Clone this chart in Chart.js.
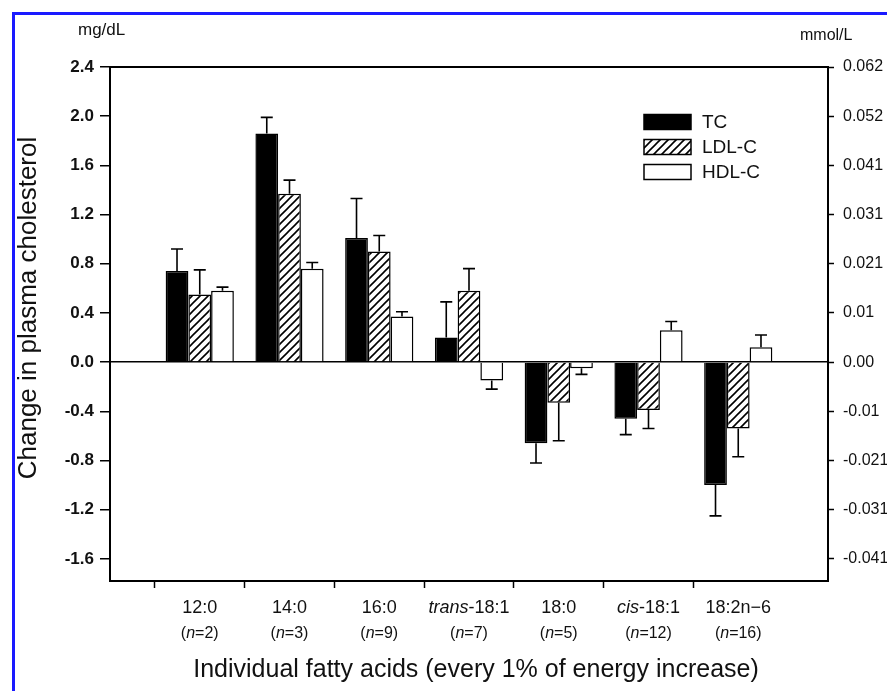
<!DOCTYPE html>
<html>
<head>
<meta charset="utf-8">
<script src="https://cdn.jsdelivr.net/npm/chart.js@4.4.0/dist/chart.umd.min.js"></script>
<style>
  body { margin: 0; background: #fff; }
  #wrap { width: 887px; height: 691px; }
</style>
</head>
<body>
<div id="wrap"><canvas id="fattyChart" width="887" height="691"></canvas></div>
<script>
// data (mg/dL)
const categories = ['12:0', '14:0', '16:0', 'trans-18:1', '18:0', 'cis-18:1', '18:2n\u22126'];
const sampleSizes = [2, 3, 9, 7, 5, 12, 16];
const tcValues = [0.74, 1.86, 1.01, 0.20, -0.66, -0.46, -1.00];
const ldlValues = [0.55, 1.37, 0.90, 0.58, -0.33, -0.39, -0.54];
const hdlValues = [0.58, 0.76, 0.37, -0.15, -0.05, 0.26, 0.12];
const tcErrors = [0.18, 0.13, 0.32, 0.29, 0.16, 0.13, 0.25];
const ldlErrors = [0.20, 0.11, 0.13, 0.18, 0.31, 0.15, 0.23];
const hdlErrors = [0.03, 0.05, 0.04, 0.07, 0.05, 0.07, 0.10];

// tick labels
const leftTicks = [2.4, 2.0, 1.6, 1.2, 0.8, 0.4, 0.0, -0.4, -0.8, -1.2, -1.6];
const leftTickLabels = ['2.4', '2.0', '1.6', '1.2', '0.8', '0.4', '0.0', '-0.4', '-0.8', '-1.2', '-1.6'];
const rightTickLabels = ['0.062', '0.052', '0.041', '0.031', '0.021', '0.01', '0.00', '-0.01', '-0.021', '-0.031', '-0.041'];

const FONT = "'Liberation Sans', Arial, sans-serif";
const yMin = -1.78, yMax = 2.4;

// empty slot on each side so the groups sit at 1..7 of 0..8
const labels = [''].concat(categories, ['']);
const pad = arr => [null].concat(arr, [null]);

// "/" hatch for LDL-C
function makeHatch() {
  const c = document.createElement('canvas');
  c.width = 8; c.height = 8;
  const g = c.getContext('2d');
  g.fillStyle = '#fff';
  g.fillRect(0, 0, 8, 8);
  g.strokeStyle = '#000';
  g.lineWidth = 1.6;
  g.beginPath();
  g.moveTo(-1, 9); g.lineTo(9, -1);
  g.moveTo(-3, 3); g.lineTo(3, -3);
  g.moveTo(5, 11); g.lineTo(11, 5);
  g.stroke();
  return g.createPattern(c, 'repeat');
}
const hatch = makeHatch();

const errorSets = [tcErrors, ldlErrors, hdlErrors];

const decorPlugin = {
  id: 'decor',
  afterDatasetsDraw(chart) {
    const ctx = chart.ctx;
    const yScale = chart.scales.y;
    ctx.save();
    ctx.strokeStyle = '#000';
    ctx.lineWidth = 1.6;
    chart.data.datasets.forEach((ds, i) => {
      const meta = chart.getDatasetMeta(i);
      meta.data.forEach((bar, j) => {
        const v = ds.data[j];
        if (v === null) return;
        const err = errorSets[i][j - 1];
        const end = v >= 0 ? v + err : v - err;
        const py = yScale.getPixelForValue(end);
        ctx.beginPath();
        ctx.moveTo(bar.x, bar.y);
        ctx.lineTo(bar.x, py);
        ctx.moveTo(bar.x - 6, py);
        ctx.lineTo(bar.x + 6, py);
        ctx.stroke();
      });
    });
    ctx.restore();
  },
  afterDraw(chart) {
    const ctx = chart.ctx;
    const area = chart.chartArea;
    const xScale = chart.scales.x;
    ctx.save();

    // top edge of the frame
    ctx.strokeStyle = '#000';
    ctx.lineWidth = 2;
    ctx.beginPath();
    ctx.moveTo(area.left, area.top);
    ctx.lineTo(area.right, area.top);
    ctx.stroke();

    // blue border of the scan
    ctx.strokeStyle = '#1a1aff';
    ctx.lineWidth = 3;
    ctx.strokeRect(13.5, 13.5, 900, 700);

    ctx.fillStyle = '#111';
    ctx.textBaseline = 'middle';

    // units
    ctx.font = '17px ' + FONT;
    ctx.textAlign = 'left';
    ctx.fillText('mg/dL', 78, 30);
    ctx.font = '16px ' + FONT;
    ctx.fillText('mmol/L', 800, 36);

    // y title
    ctx.save();
    ctx.translate(29, 308);
    ctx.rotate(-Math.PI / 2);
    ctx.textAlign = 'center';
    ctx.font = '26px ' + FONT;
    ctx.fillText('Change in plasma cholesterol', 0, 0);
    ctx.restore();

    // category labels, italic prefix and n=
    categories.forEach((name, i) => {
      const x = xScale.getPixelForValue(i + 1);
      const m = name.match(/^(trans|cis)(-.*)$/);
      const parts = m ? [[m[1], 'italic '], [m[2], '']] : [[name, '']];
      let w = 0;
      parts.forEach(p => { ctx.font = p[1] + '18px ' + FONT; w += ctx.measureText(p[0]).width; });
      let cx = x - w / 2;
      ctx.textAlign = 'left';
      parts.forEach(p => {
        ctx.font = p[1] + '18px ' + FONT;
        ctx.fillText(p[0], cx, 608);
        cx += ctx.measureText(p[0]).width;
      });

      const sub = [['(', ''], ['n', 'italic '], ['=' + sampleSizes[i] + ')', '']];
      w = 0;
      sub.forEach(p => { ctx.font = p[1] + '16px ' + FONT; w += ctx.measureText(p[0]).width; });
      cx = x - w / 2;
      sub.forEach(p => {
        ctx.font = p[1] + '16px ' + FONT;
        ctx.fillText(p[0], cx, 634);
        cx += ctx.measureText(p[0]).width;
      });
    });

    // x title
    ctx.textAlign = 'center';
    ctx.font = '25px ' + FONT;
    ctx.fillText('Individual fatty acids (every 1% of energy increase)', 476, 670);

    // legend
    const lx = 644, ly = [122, 147, 172];
    chart.data.datasets.forEach((ds, i) => {
      ctx.fillStyle = ds.backgroundColor;
      ctx.fillRect(lx, ly[i] - 7.5, 47, 15);
      ctx.strokeStyle = '#000';
      ctx.lineWidth = 1.5;
      ctx.strokeRect(lx, ly[i] - 7.5, 47, 15);
      ctx.fillStyle = '#111';
      ctx.textAlign = 'left';
      ctx.font = '19px ' + FONT;
      ctx.fillText(ds.label, 702, ly[i] + 1);
    });

    ctx.restore();
  }
};

const setTicks = scale => { scale.ticks = leftTicks.map(v => ({ value: v })); };

new Chart(document.getElementById('fattyChart'), {
  type: 'bar',
  data: {
    labels: labels,
    datasets: [
      { label: 'TC', data: pad(tcValues), backgroundColor: '#000', borderColor: '#000', borderWidth: 1.5 },
      { label: 'LDL-C', data: pad(ldlValues), backgroundColor: hatch, borderColor: '#000', borderWidth: 1.5 },
      { label: 'HDL-C', data: pad(hdlValues), backgroundColor: '#fff', borderColor: '#000', borderWidth: 1.5 }
    ]
  },
  options: {
    responsive: false,
    animation: false,
    devicePixelRatio: 1,
    layout: { padding: { top: 67, left: 0, right: 0, bottom: 0 } },
    datasets: { bar: { categoryPercentage: 0.76, barPercentage: 1.0 } },
    plugins: { legend: { display: false }, tooltip: { enabled: false } },
    scales: {
      x: {
        offset: false,
        grid: {
          drawOnChartArea: false,
          tickLength: 7,
          tickColor: c => (c.index === 0 || c.index === labels.length - 1) ? 'rgba(0,0,0,0)' : '#000',
          tickWidth: 1.5
        },
        border: { display: true, color: '#000', width: 2 },
        ticks: { autoSkip: false, maxRotation: 0, callback: () => '' },
        afterFit: s => { s.height = 110; }
      },
      y: {
        position: 'left',
        min: yMin,
        max: yMax,
        afterBuildTicks: setTicks,
        grid: {
          color: c => (c.tick && c.tick.value === 0) ? '#000' : 'rgba(0,0,0,0)',
          lineWidth: 1.5,
          tickColor: '#000',
          tickLength: 10,
          tickWidth: 1.5
        },
        border: { display: true, color: '#000', width: 2 },
        ticks: {
          color: '#111',
          padding: 6,
          font: { family: FONT, size: 17, weight: 'bold' },
          callback: v => leftTickLabels[leftTicks.indexOf(Math.round(v * 10) / 10)]
        },
        afterFit: s => { s.width = 110; }
      },
      y2: {
        position: 'right',
        min: yMin,
        max: yMax,
        afterBuildTicks: setTicks,
        grid: { drawOnChartArea: false, tickColor: '#000', tickLength: 6, tickWidth: 1.5 },
        border: { display: true, color: '#000', width: 2 },
        ticks: {
          color: '#111',
          padding: 9,
          font: { family: FONT, size: 16 },
          callback: v => rightTickLabels[leftTicks.indexOf(Math.round(v * 10) / 10)]
        },
        afterFit: s => { s.width = 59; }
      }
    }
  },
  plugins: [decorPlugin]
});
</script>
</body>
</html>
